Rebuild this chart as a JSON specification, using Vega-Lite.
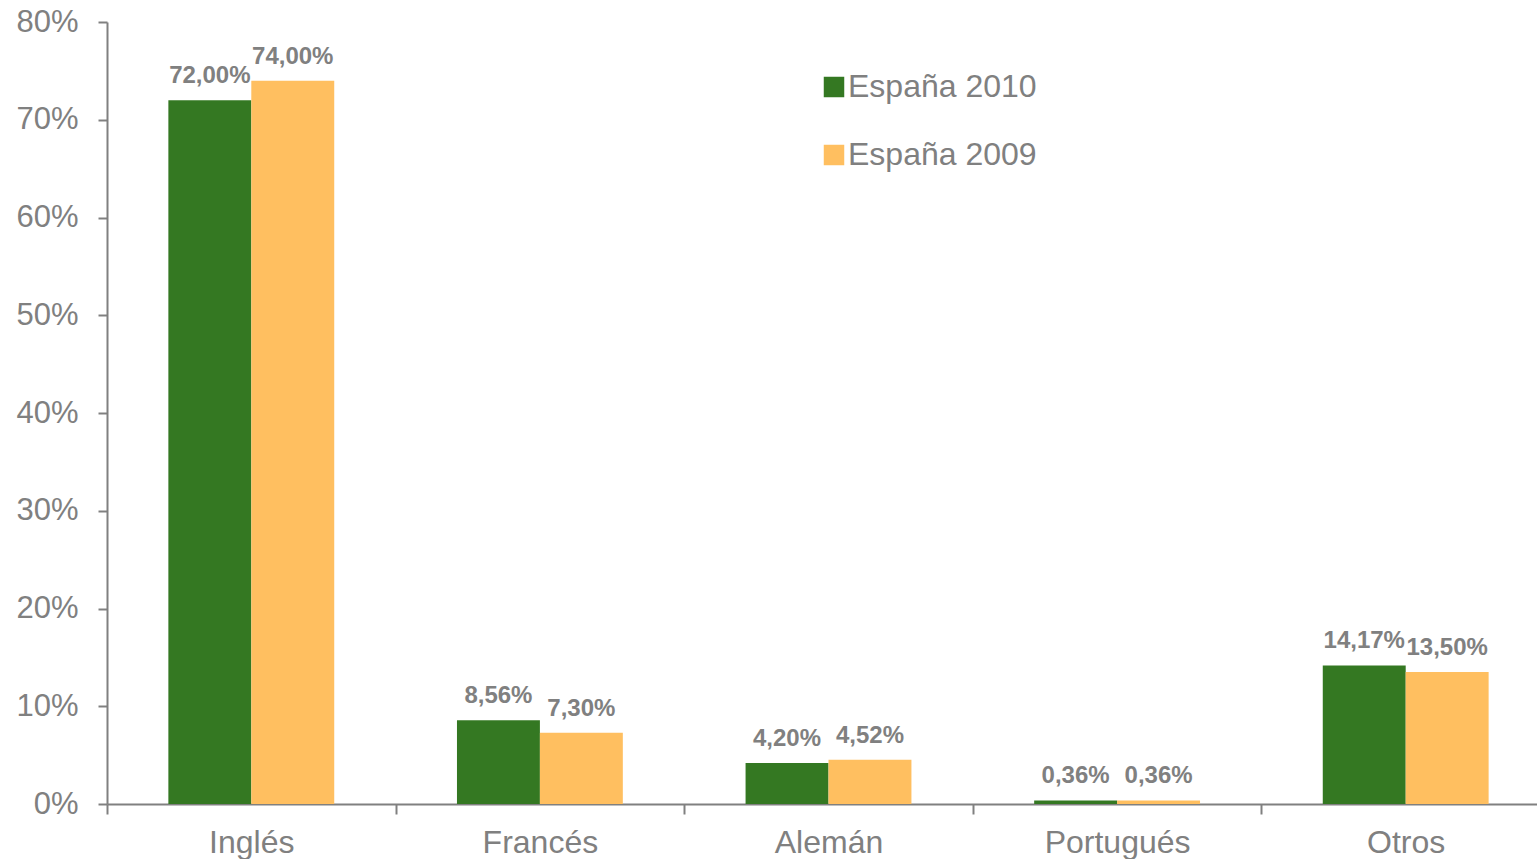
{
  "$schema": "https://vega.github.io/schema/vega-lite/v6.json",
  "autosize": {"type": "none"},
  "width": 1430,
  "height": 782,
  "padding": {"left": 107, "top": 22, "right": 0, "bottom": 55},
  "background": "white",
  "config": {
    "view": {"stroke": null},
    "font": "Liberation Sans",
    "locale": {"number": {"decimal": ",", "thousands": ".", "grouping": [3], "currency": ["", " €"]}}
  },
  "data": {
    "values": [
      {"idioma": "Inglés", "serie": "España 2010", "valor": 0.72},
      {"idioma": "Inglés", "serie": "España 2009", "valor": 0.74},
      {"idioma": "Francés", "serie": "España 2010", "valor": 0.0856},
      {"idioma": "Francés", "serie": "España 2009", "valor": 0.073},
      {"idioma": "Alemán", "serie": "España 2010", "valor": 0.042},
      {"idioma": "Alemán", "serie": "España 2009", "valor": 0.0452},
      {"idioma": "Portugués", "serie": "España 2010", "valor": 0.0036},
      {"idioma": "Portugués", "serie": "España 2009", "valor": 0.0036},
      {"idioma": "Otros", "serie": "España 2010", "valor": 0.1417},
      {"idioma": "Otros", "serie": "España 2009", "valor": 0.135}
    ]
  },
  "encoding": {
    "x": {
      "field": "idioma", "type": "nominal",
      "sort": ["Inglés", "Francés", "Alemán", "Portugués", "Otros"],
      "scale": {"paddingInner": 0, "paddingOuter": 0, "range": [0, 1443]},
      "axis": {
        "title": null, "labelAngle": 0, "labelFontSize": 32, "labelColor": "#808080",
        "labelPadding": 13, "domainColor": "#808080", "domainWidth": 2,
        "tickColor": "#808080", "tickWidth": 2, "tickSize": 10, "tickBand": "extent",
        "grid": false
      }
    },
    "xOffset": {
      "field": "serie", "type": "nominal", "sort": ["España 2010", "España 2009"],
      "scale": {"paddingInner": 0, "paddingOuter": 0.74}
    },
    "y": {
      "field": "valor", "type": "quantitative",
      "scale": {"domain": [0, 0.8], "nice": false},
      "axis": {
        "title": null, "format": ".0%", "values": [0, 0.1, 0.2, 0.3, 0.4, 0.5, 0.6, 0.7, 0.8],
        "labelFontSize": 31, "labelColor": "#808080", "labelPadding": 20,
        "domainColor": "#808080", "domainWidth": 2, "tickColor": "#808080",
        "tickWidth": 2, "tickSize": 9, "grid": false
      }
    }
  },
  "layer": [
    {
      "mark": {"type": "bar"},
      "encoding": {
        "color": {
          "field": "serie", "type": "nominal",
          "scale": {"domain": ["España 2010", "España 2009"], "range": ["#347822", "#FFBF60"]},
          "legend": {
            "title": null, "orient": "none", "legendX": 711, "legendY": 49,
            "symbolType": "square", "symbolSize": 420, "symbolStrokeWidth": 0,
            "labelFontSize": 32, "labelColor": "#808080", "labelOffset": -2,
            "labelLimit": 0, "rowPadding": 36
          }
        }
      }
    },
    {
      "mark": {"type": "text", "baseline": "bottom", "dy": -12, "fontSize": 24, "fontWeight": "bold", "color": "#808080"},
      "encoding": {
        "text": {"field": "valor", "type": "quantitative", "format": ".2%"}
      }
    }
  ]
}
